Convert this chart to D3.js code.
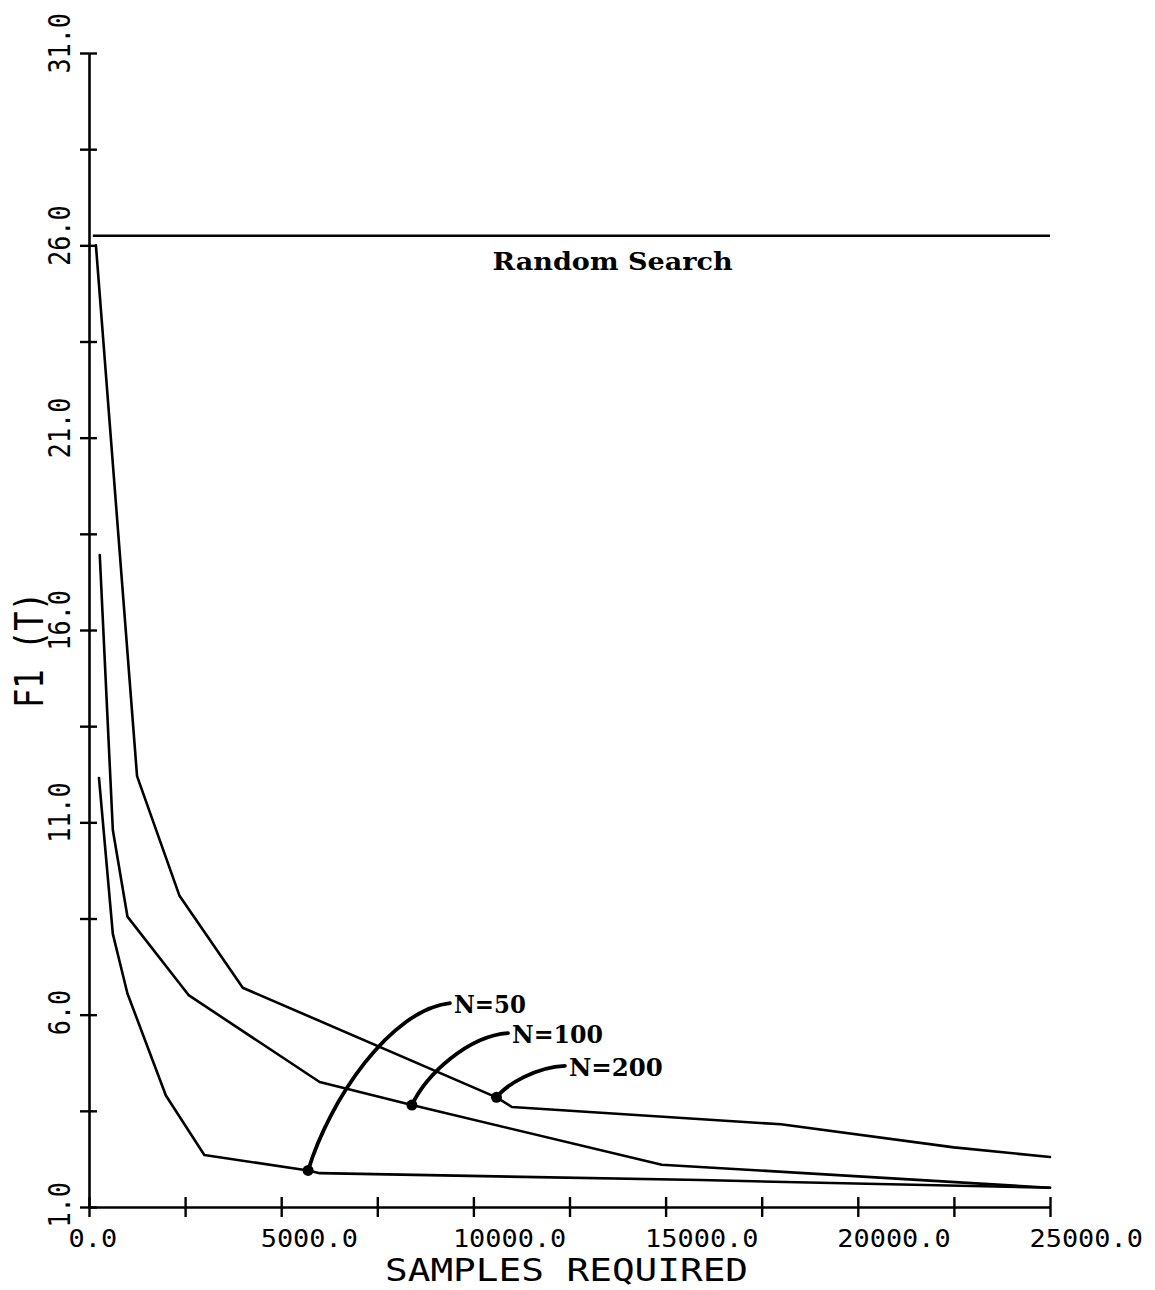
<!DOCTYPE html>
<html>
<head>
<meta charset="utf-8">
<script src="https://cdn.jsdelivr.net/npm/d3@7"></script>
<style>
  html, body { margin: 0; padding: 0; background: #fff; }
  svg { display: block; }
  .mono { font-family: "DejaVu Sans Mono", monospace; }
  .type { font-family: "DejaVu Serif", serif; font-weight: bold; }
</style>
</head>
<body>
<svg id="chart" width="1155" height="1290"></svg>
<script>
// Axis ticks
const xTickValues = [0, 2500, 5000, 7500, 10000, 12500, 15000, 17500, 20000, 22500, 25000];
const xLabelValues = [0, 5000, 10000, 15000, 20000, 25000];
const yTickValues = [1, 3.5, 6, 8.5, 11, 13.5, 16, 18.5, 21, 23.5, 26, 28.5, 31];
const yLabelValues = [1, 6, 11, 16, 21, 26, 31];

// Best F1 found vs. samples required, per population size
const seriesNames = ["N=50", "N=100", "N=200"];
const n50 = [[260, 12.15], [620, 8.1], [1000, 6.55], [2000, 3.9], [3000, 2.35], [5700, 1.95], [6000, 1.88], [15900, 1.7], [25000, 1.5]];
const n100 = [[280, 17.95], [620, 10.8], [1000, 8.55], [2600, 6.5], [6000, 4.25], [8400, 3.65], [14900, 2.1], [25000, 1.5]];
const n200 = [[180, 26.0], [1250, 12.2], [2350, 9.1], [4000, 6.7], [10600, 3.85], [11000, 3.6], [18000, 3.15], [22500, 2.55], [25000, 2.3]];

// Random search reference level
const randomSearchLevel = 26.25;
const randomSearchRange = [100, 25000];
const randomSearchLabel = "Random Search";

// Marked point on each curve and where its callout text sits (data units)
const calloutPoints = [[5700, 1.95], [8400, 3.65], [10600, 3.85]];
const calloutAnchors = [[9390, 6.3], [10900, 5.52], [12380, 4.67]];

const svg = d3.select("#chart");
const x = d3.scaleLinear().domain([0, 25000]).range([89, 1050]);
const y = d3.scaleLinear().domain([1, 31]).range([1207, 53]);
const ink = "#000";

// X axis
const xAxis = svg.append("g")
  .attr("transform", `translate(0,${y(1)})`)
  .call(d3.axisBottom(x).tickValues(xTickValues).tickSizeOuter(0)
    .tickFormat(d => xLabelValues.includes(d) ? d.toFixed(1) : ""));
xAxis.select(".domain").attr("stroke", ink).attr("stroke-width", 2.6);
xAxis.selectAll(".tick line").attr("y1", -10).attr("y2", 10).attr("stroke", ink).attr("stroke-width", 2.4);
xAxis.selectAll(".tick text")
  .attr("class", "mono").attr("fill", ink)
  .attr("font-size", 25).attr("text-anchor", "start")
  .attr("x", -21).attr("y", 40).attr("dy", 0)
  .each(function () {
    const t = d3.select(this).text();
    if (t) d3.select(this).attr("textLength", t.length * 16.2).attr("lengthAdjust", "spacingAndGlyphs");
  });

// Y axis
const yAxis = svg.append("g")
  .attr("transform", `translate(${x(0)},0)`)
  .call(d3.axisLeft(y).tickValues(yTickValues).tickSizeOuter(0)
    .tickFormat(d => yLabelValues.includes(d) ? d.toFixed(1) : ""));
yAxis.select(".domain").attr("stroke", ink).attr("stroke-width", 2.6);
yAxis.selectAll(".tick line").attr("x1", -9).attr("x2", 8).attr("stroke", ink).attr("stroke-width", 2.4);
yAxis.selectAll(".tick text")
  .attr("class", "mono").attr("fill", ink)
  .attr("font-size", 30).attr("text-anchor", "start")
  .attr("x", 0).attr("y", 0).attr("dy", 0)
  .attr("transform", "translate(-19,20) rotate(-90)")
  .each(function () {
    const t = d3.select(this).text();
    if (t) d3.select(this).attr("textLength", t.length * 15.1).attr("lengthAdjust", "spacingAndGlyphs");
  });

// Axis titles
svg.append("text").attr("class", "mono")
  .attr("x", 385).attr("y", 1281)
  .attr("font-size", 32).attr("fill", ink)
  .attr("textLength", 363).attr("lengthAdjust", "spacingAndGlyphs")
  .text("SAMPLES REQUIRED");
svg.append("text").attr("class", "mono")
  .attr("transform", "translate(43,708) rotate(-90)")
  .attr("font-size", 39).attr("fill", ink)
  .attr("textLength", 116).attr("lengthAdjust", "spacingAndGlyphs")
  .text("F1 (T)");

// Random search level
svg.append("line")
  .attr("x1", x(randomSearchRange[0])).attr("x2", x(randomSearchRange[1]))
  .attr("y1", y(randomSearchLevel)).attr("y2", y(randomSearchLevel))
  .attr("stroke", ink).attr("stroke-width", 2.4);
svg.append("text").attr("class", "type")
  .attr("x", x(10500)).attr("y", y(randomSearchLevel) + 34)
  .attr("font-size", 25).attr("fill", ink)
  .attr("textLength", 240).attr("lengthAdjust", "spacingAndGlyphs")
  .text(randomSearchLabel);

// Curves
const line = d3.line().x(d => x(d[0])).y(d => y(d[1]));
[n50, n100, n200].forEach(s => {
  svg.append("path").attr("d", line(s))
    .attr("fill", "none").attr("stroke", ink)
    .attr("stroke-width", 2.6).attr("stroke-linejoin", "round").attr("stroke-linecap", "round");
});

// Callouts: curved leader from the marked point to its label
const labelWidths = [72, 91, 94];
calloutPoints.forEach((p, i) => {
  const x0 = x(p[0]), y0 = y(p[1]);
  const x3 = x(calloutAnchors[i][0]), y3 = y(calloutAnchors[i][1]);
  const dx = x3 - x0, dy = y3 - y0;
  const path = d3.path();
  path.moveTo(x0, y0);
  path.bezierCurveTo(x0 + 0.15 * dx, y0 + 0.42 * dy, x0 + 0.58 * dx, y0 + 0.96 * dy, x3, y3);
  svg.append("path").attr("d", path.toString())
    .attr("fill", "none").attr("stroke", ink).attr("stroke-width", 3.8).attr("stroke-linecap", "round");
  svg.append("circle").attr("cx", x0).attr("cy", y0).attr("r", 5.5).attr("fill", ink);
  svg.append("text").attr("class", "type")
    .attr("x", x3 + 4).attr("y", y3 + 10)
    .attr("font-size", 25).attr("fill", ink)
    .attr("textLength", labelWidths[i]).attr("lengthAdjust", "spacingAndGlyphs")
    .text(seriesNames[i]);
});
</script>
</body>
</html>
